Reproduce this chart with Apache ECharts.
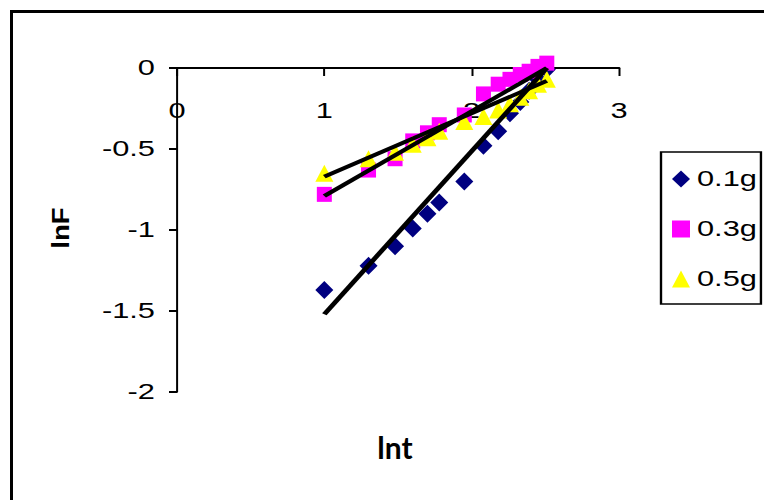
<!DOCTYPE html>
<html>
<head>
<meta charset="utf-8">
<script src="https://cdn.jsdelivr.net/npm/echarts@6/dist/echarts.min.js"></script>
<style>
  html, body { margin: 0; padding: 0; background: #fff; overflow: hidden; }
  /* The chart is laid out in a narrower frame and stretched sideways,
     which gives the wide lettering; marker and stroke sizes are divided
     by the same factor so they come out square. */
  #chart { width: 546px; height: 500px; transform: scaleX(1.4); transform-origin: 0 0; }
</style>
</head>
<body>
<div id="chart"></div>
<script>
// ln t values shared by the three runs
const lnT = [1.00, 1.30, 1.48, 1.60, 1.70, 1.78, 1.95, 2.08, 2.18, 2.26, 2.33, 2.39, 2.45, 2.51];
// ln F for each sample mass
const lnF_01 = [-1.37, -1.22, -1.10, -0.99, -0.90, -0.83, -0.70, -0.48, -0.39, -0.28, -0.21, -0.14, -0.07, -0.01];
const lnF_03 = [-0.78, -0.63, -0.56, -0.45, -0.40, -0.35, -0.29, -0.16, -0.10, -0.07, -0.04, -0.02, 0.01, 0.03];
const lnF_05 = [-0.65, -0.56, -0.52, -0.47, -0.43, -0.39, -0.33, -0.30, -0.26, -0.22, -0.18, -0.14, -0.10, -0.07];
// linear trend lines: end points
const fitX = [1.00, 2.51];
const fit_01 = [-1.52, 0.00];
const fit_03 = [-0.79, 0.00];
const fit_05 = [-0.67, -0.08];

const seriesNames = ['0.1g', '0.3g', '0.5g'];
const xTicks = { min: 0, max: 3, interval: 1 };
const yTicks = { min: -2, max: 0, interval: 0.5 };

const S = 1.4;                 // horizontal stretch of the frame
const hx = v => v / S;         // horizontal screen length -> frame units

const pairs = (xs, ys) => xs.map((x, i) => [x, ys[i]]);

const FONT = '"Liberation Sans", Arial, sans-serif';

const chart = echarts.init(document.getElementById('chart'), null, { renderer: 'svg' });

function scatter(name, data, symbol, size, color) {
  return {
    name, type: 'scatter', data, symbol,
    symbolSize: size, clip: false,
    itemStyle: { color, opacity: 1 },
    z: 3
  };
}
function fit(data) {
  return {
    type: 'line', data, symbol: 'none', clip: false, silent: true,
    lineStyle: { color: '#000', width: 3.8 },
    z: 5
  };
}

chart.setOption({
  animation: false,
  backgroundColor: '#fff',
  grid: { left: hx(177), top: 68, width: hx(442), height: 324, containLabel: false },
  xAxis: {
    // y = 0 is the top of the plot, so the x axis sits along the top edge
    type: 'value', min: xTicks.min, max: xTicks.max, interval: xTicks.interval,
    position: 'top',
    axisLine: { onZero: false, lineStyle: { color: '#000', width: 2 } },
    axisTick: { show: true, inside: true, length: 8, lineStyle: { color: '#000', width: hx(2) } },
    axisLabel: { inside: true, color: '#000', fontSize: 22, fontFamily: FONT, margin: 32 },
    splitLine: { show: false }
  },
  yAxis: {
    type: 'value', min: yTicks.min, max: yTicks.max, interval: yTicks.interval,
    axisLine: { show: true, onZero: false, lineStyle: { color: '#000', width: hx(2) } },
    axisTick: { show: true, inside: false, length: hx(8), lineStyle: { color: '#000', width: 2 } },
    axisLabel: { color: '#000', fontSize: 22, fontFamily: FONT, margin: hx(22) },
    splitLine: { show: false }
  },
  legend: {
    orient: 'vertical',
    left: hx(661), top: 152,
    padding: [16, hx(4), 14, hx(11)],
    itemWidth: hx(18), itemHeight: 17, itemGap: 28,
    symbolKeepAspect: false,
    borderColor: '#000', borderWidth: 1.7,
    textStyle: { color: '#000', fontSize: 22, fontFamily: FONT },
    data: seriesNames
  },
  series: [
    scatter(seriesNames[0], pairs(lnT, lnF_01), 'diamond', [hx(18), 18], '#000080'),
    scatter(seriesNames[1], pairs(lnT, lnF_03), 'rect', [hx(15), 15], '#FF00FF'),
    scatter(seriesNames[2], pairs(lnT, lnF_05), 'triangle', [hx(18), 17], '#FFFF00'),
    fit(pairs(fitX, fit_01)),
    fit(pairs(fitX, fit_03)),
    fit(pairs(fitX, fit_05))
  ],
  graphic: [
    // outer chart frame (left and top edges fall inside the page)
    { type: 'line', shape: { x1: hx(11.5), y1: 10, x2: hx(11.5), y2: 520 },
      style: { stroke: '#000', lineWidth: hx(3) }, z: 10 },
    { type: 'line', shape: { x1: hx(10), y1: 11.5, x2: 700, y2: 11.5 },
      style: { stroke: '#000', lineWidth: 3 }, z: 10 },
    // axis titles
    { type: 'text', x: hx(61), y: 228, rotation: Math.PI / 2, scaleX: 1.2, scaleY: 1 / S,
      style: { text: 'lnF', font: 'bold 23px ' + FONT, fill: '#000', align: 'center', verticalAlign: 'middle' }, z: 10 },
    { type: 'text', x: hx(395), y: 447, scaleX: 1 / S,
      style: { text: 'lnt', font: 'bold 30px Lato, "Open Sans", sans-serif', fill: '#000', align: 'center', verticalAlign: 'middle' }, z: 10 }
  ]
});
</script>
</body>
</html>
